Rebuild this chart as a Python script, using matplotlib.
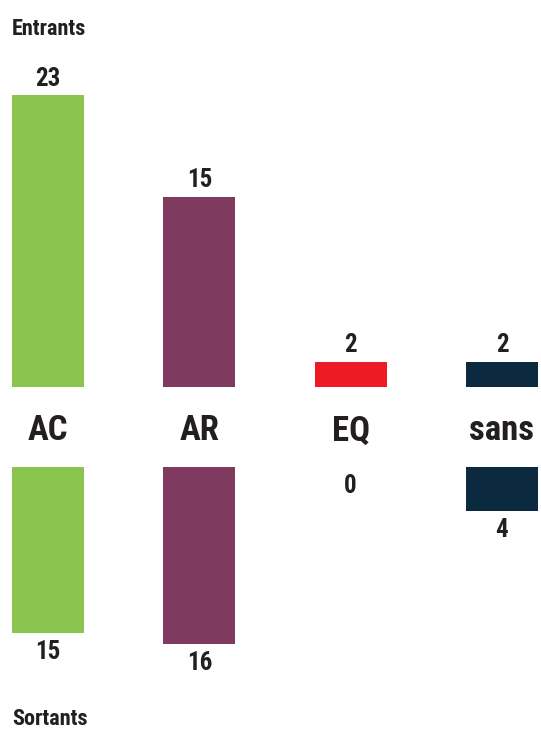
import matplotlib
matplotlib.use("Agg")
import matplotlib.pyplot as plt
from matplotlib import font_manager

categories = ["AC", "AR", "EQ", "sans"]
entrants = [23, 15, 2, 2]
sortants = [15, 16, 0, 4]
colors = ["#8bc34f", "#7f3a5f", "#ed1c24", "#0b2a3f"]
title_top = "Entrants"
title_bottom = "Sortants"

names = {f.name for f in font_manager.fontManager.ttflist}
fam = [f for f in ["Liberation Sans Narrow", "Roboto Condensed", "Liberation Sans", "DejaVu Sans"] if f in names]
plt.rcParams['font.family'] = fam
txt = "#231f20"

W, H = 541, 729
fig = plt.figure(figsize=(W / 100, H / 100), dpi=100)

x = list(range(len(categories)))
xl = (-48 / 151.33, (W - 48) / 151.33)
bw = 72 / 151.33

# top axes: baseline at y=387 px, 12.7 px per unit
top_px = 387
scale_t = 12.7
ht = 25 * scale_t
ax1 = fig.add_axes([0, 1 - top_px / H, 1, ht / H])
ax1.bar(x, entrants, width=bw, color=colors)
ax1.set_xlim(*xl)
ax1.set_ylim(0, 25)
for xi, v in zip(x, entrants):
    ax1.annotate(str(v), (xi, v), xytext=(0, 3), textcoords="offset points",
                 ha="center", va="bottom", fontsize=18, fontweight="heavy", color=txt)
ax1.axis("off")

# bottom axes: baseline at y=467 px, 11.06 px per unit
bot_px = 467
scale_b = 11.06
hb = 18 * scale_b
ax2 = fig.add_axes([0, 1 - (bot_px + hb) / H, 1, hb / H])
ax2.bar(x, sortants, width=bw, color=colors)
ax2.set_xlim(*xl)
ax2.set_ylim(18, 0)
for xi, v in zip(x, sortants):
    ax2.annotate(str(v), (xi, v), xytext=(0, -5), textcoords="offset points",
                 ha="center", va="top", fontsize=18, fontweight="heavy", color=txt)
ax2.axis("off")

# category labels between the panels
for xi, c in zip(x, categories):
    px = 48 + xi * 151.33
    fig.text(px / W, 1 - 431 / H, c, ha="center", va="center",
             fontsize=25, fontweight="heavy", color=txt)

fig.text(12 / W, 1 - 29 / H, title_top, ha="left", va="center",
         fontsize=16, fontweight="heavy", color=txt)
fig.text(12 / W, 1 - 719 / H, title_bottom, ha="left", va="center",
         fontsize=16, fontweight="heavy", color=txt)

fig.savefig("out.png", dpi=100)
